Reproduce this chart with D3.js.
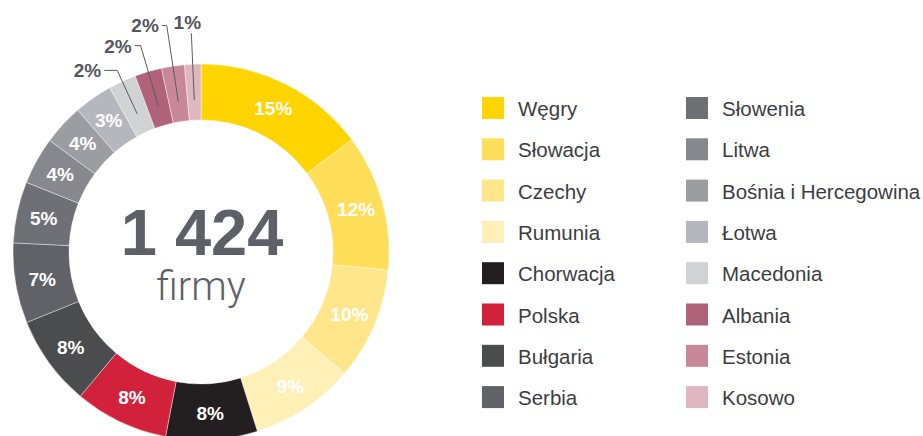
<!DOCTYPE html>
<html lang="pl">
<head>
<meta charset="UTF-8">
<script src="https://cdn.jsdelivr.net/npm/d3@7"></script>
<style>
  * { margin: 0; padding: 0; }
  body { background: #fff; font-family: "Liberation Sans", Arial, sans-serif; }
  svg { display: block; }
</style>
<title>Firmy według krajów</title>
</head>
<body>
<div id="chart"></div>
<script>
// dane
var countries = ["Węgry", "Słowacja", "Czechy", "Rumunia", "Chorwacja", "Polska", "Bułgaria", "Serbia",
                 "Słowenia", "Litwa", "Bośnia i Hercegowina", "Łotwa", "Macedonia", "Albania", "Estonia", "Kosowo"];
var firms = [211, 167, 137, 128, 112, 115, 111, 98, 75, 58, 50, 47, 34, 33, 28, 20];   // szacunek z wykresu
var shareLabels = ["15%", "12%", "10%", "9%", "8%", "8%", "8%", "7%", "5%", "4%", "4%", "3%", "2%", "2%", "2%", "1%"];
var colors = ["#FFD400", "#FFDE59", "#FFE68A", "#FFF0B8", "#231F20", "#D2213A", "#4B4C4E", "#606268",
              "#6F7075", "#86888E", "#9C9DA1", "#B6B7BE", "#D1D2D4", "#B0627A", "#C8889A", "#DFB7C1"];
var total = "1 424";
var totalLabel = "firmy";

var w = 923, h = 436;
var cx = 201, cy = 252;
var rOuter = 188, rInner = 132;

// małe wycinki opisane na zewnątrz (promień łamania, długość poziomego odcinka)
var callouts = { 12: {r: 200, len: 13}, 13: {r: 215, len: 6}, 14: {r: 229, len: 5}, 15: {r: 219, len: 0} };

var data = countries.map(function(c, i) {
    return {country: c, firms: firms[i], label: shareLabels[i], color: colors[i]};
});

var svg = d3.select("#chart").append("svg")
    .attr("width", w)
    .attr("height", h);

var pie = d3.pie().sort(null).value(function(d) { return d.firms; });
var arcs = pie(data);

var arc = d3.arc().innerRadius(rInner).outerRadius(rOuter);
var labelArc = d3.arc().innerRadius(161).outerRadius(161);

var g = svg.append("g").attr("transform", "translate(" + cx + "," + cy + ")");

g.selectAll("path")
    .data(arcs)
    .enter()
    .append("path")
    .attr("d", arc)
    .attr("fill", function(d) { return d.data.color; })
    .attr("stroke", "#fff")
    .attr("stroke-width", 0.4);

// etykiety wewnątrz
g.selectAll("text.inside")
    .data(arcs.filter(function(d, i) { return !callouts[i]; }))
    .enter()
    .append("text")
    .attr("class", "inside")
    .attr("transform", function(d) { return "translate(" + labelArc.centroid(d) + ")"; })
    .attr("text-anchor", "middle")
    .attr("dy", "0.36em")
    .attr("fill", "#fff")
    .attr("font-weight", "bold")
    .attr("font-size", "19px")
    .text(function(d) { return d.data.label; });

// etykiety zewnętrzne z liniami
function polar(a, r) { return [Math.sin(a) * r, -Math.cos(a) * r]; }

arcs.forEach(function(d, i) {
    var c = callouts[i];
    if (!c) return;
    var mid = (d.startAngle + d.endAngle) / 2;
    var p0 = polar(mid, 152);
    var p1 = polar(mid, c.r);
    var p2 = [p1[0] - c.len, p1[1]];
    g.append("polyline")
        .attr("points", [p0, p1, p2].join(" "))
        .attr("fill", "none")
        .attr("stroke", "#5a5c62")
        .attr("stroke-width", 1);
    var t = g.append("text")
        .attr("fill", "#55575e")
        .attr("font-weight", "bold")
        .attr("font-size", "19px")
        .text(d.data.label);
    if (c.len === 0) {
        t.attr("x", p1[0] - 4).attr("y", p1[1] - 4).attr("text-anchor", "middle");
    } else {
        t.attr("x", p2[0] - 3).attr("y", p2[1]).attr("dy", "0.36em").attr("text-anchor", "end");
    }
});

// środek
g.append("text")
    .attr("x", 1)
    .attr("y", 3)
    .attr("text-anchor", "middle")
    .attr("fill", "#5d6067")
    .attr("font-weight", "bold")
    .attr("font-size", "65px")
    .text(total);

g.append("text")
    .attr("x", 0)
    .attr("y", 48)
    .attr("text-anchor", "middle")
    .attr("fill", "#5d6067")
    .attr("font-family", "Roboto, 'Liberation Sans', sans-serif")
    .attr("font-weight", 300)
    .attr("font-size", "40px")
    .text(totalLabel);

// legenda
var rowH = 41.3;
var legend = svg.append("g").selectAll("g")
    .data(data)
    .enter()
    .append("g")
    .attr("transform", function(d, i) {
        var col = Math.floor(i / 8), row = i % 8;
        return "translate(" + (482 + col * 204) + "," + (97 + row * rowH) + ")";
    });

legend.append("rect")
    .attr("width", 22)
    .attr("height", 22)
    .attr("fill", function(d) { return d.color; });

legend.append("text")
    .attr("x", 36)
    .attr("y", 19)
    .attr("fill", "#3d3d3f")
    .attr("font-size", "20.5px")
    .text(function(d) { return d.country; });
</script>
</body>
</html>
